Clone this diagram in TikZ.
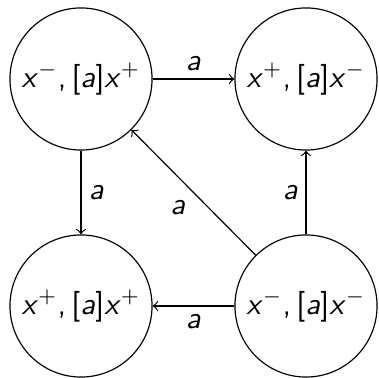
\documentclass[tikz,border=0pt]{standalone}
\usetikzlibrary{positioning}

% sans serif slanted letters
\newcommand{\vx}{\textsl{x}}
\newcommand{\va}{\textsl{a}}

\tikzset{
    vertex/.style={draw, circle, minimum size=1.704cm, inner sep=0pt, font=\sffamily\fontsize{10.5}{12}\selectfont},
    lbl/.style={inner sep=2.5pt, font=\sffamily\fontsize{10.5}{12}\selectfont}
}

\begin{document}
\begin{tikzpicture}[x=0.012cm, y=-0.012cm, >=to]
    \useasboundingbox (0,0) rectangle (379,378);

    % States
    \node[vertex] (mp) at (81,79) {\vx$^-$,\,[\va]\vx$^+$};
    \node[vertex] (pm) at (306,79) {\vx$^+$,\,[\va]\vx$^-$};
    \node[vertex] (pp) at (81,306) {\vx$^+$,\,[\va]\vx$^+$};
    \node[vertex] (mm) at (306,306) {\vx$^-$,\,[\va]\vx$^-$};

    % Transitions
    \draw[->] (mp) -- node[lbl, above] (l1) {\va} (pm);
    \draw[->] (mp) -- node[lbl, right] (l2) {\va} (pp);
    \draw[->] (mm) -- node[lbl, left] (l3) {\va} (pm);
    \draw[->] (mm) -- node[lbl, below] (l4) {\va} (pp);
    \draw[->] (mm) -- node[lbl, below left] (l5) {\va} (mp);
\end{tikzpicture}
\end{document}
